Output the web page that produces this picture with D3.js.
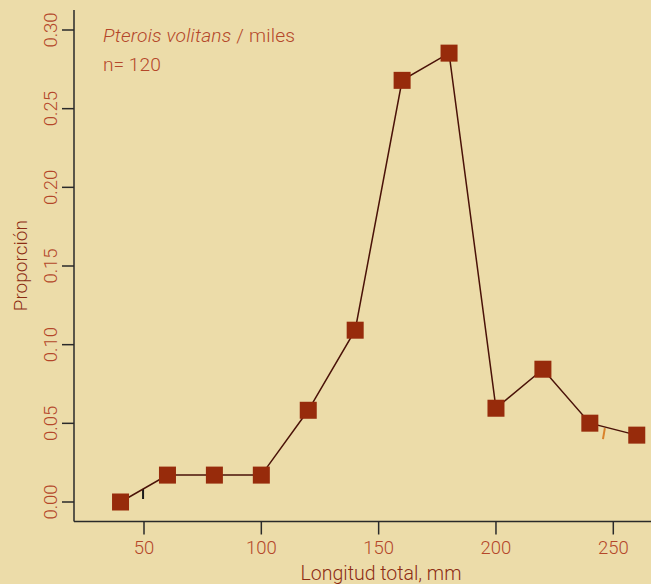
<!DOCTYPE html>
<html>
<head>
<meta charset="utf-8">
<script src="https://cdn.jsdelivr.net/npm/d3@7"></script>
<style>
  body { margin: 0; background: #ecdca9; }
  svg { display: block; font-family: Roboto, 'Liberation Sans', sans-serif; font-weight: 300; }
</style>
</head>
<body>
<script>
// talla (mm) y proporción de individuos, n = 120
const lengths = [40, 60, 80, 100, 120, 140, 160, 180, 200, 220, 240, 260]
const proportions = [0, 0.0171, 0.0171, 0.0171, 0.0583, 0.1092, 0.268, 0.2853, 0.0596, 0.0844, 0.0501, 0.0425]
const xTicks = [50, 100, 150, 200, 250]
const yTicks = [0, 0.05, 0.10, 0.15, 0.20, 0.25, 0.30]
// two small stray marks seen in the original plot
const strayBlack = [[49.6, 0.0083], [49.6, 0.0019]]
const strayOrange = [[246.4, 0.047], [245.6, 0.040]]

const width = 651
const height = 584
const margin = { top: 10, right: 0, bottom: 63, left: 74 }

const x = d3.scaleLinear().domain([50, 250]).range([144, 613.3])
const y = d3.scaleLinear().domain([0, 0.30]).range([502, 30])

const labelColor = '#b4472a'
const titleColor = '#8c2c14'
const axisColor = '#2a2a2a'

const svg = d3.select('body').append('svg')
  .attr('width', width)
  .attr('height', height)

svg.append('rect').attr('width', width).attr('height', height).attr('fill', '#ecdca9')

const plotBottom = height - margin.bottom + 0.5

// box lines (bty = "l")
svg.append('line')
  .attr('x1', margin.left).attr('x2', margin.left)
  .attr('y1', margin.top).attr('y2', plotBottom)
  .attr('stroke', axisColor).attr('stroke-width', 1.5)
svg.append('line')
  .attr('x1', margin.left).attr('x2', width)
  .attr('y1', plotBottom).attr('y2', plotBottom)
  .attr('stroke', axisColor).attr('stroke-width', 1.5)

// y axis
const yAxis = svg.append('g')
yAxis.selectAll('line')
  .data(yTicks)
  .enter()
  .append('line')
  .attr('x1', margin.left - 12).attr('x2', margin.left)
  .attr('y1', d => y(d)).attr('y2', d => y(d))
  .attr('stroke', axisColor).attr('stroke-width', 1.5)
yAxis.selectAll('text')
  .data(yTicks)
  .enter()
  .append('text')
  .attr('transform', d => 'translate(56.5,' + y(d) + ') rotate(-90)')
  .attr('text-anchor', 'middle')
  .attr('fill', labelColor)
  .attr('font-size', 18.5)
  .text(d => d3.format('.2f')(d))

// x axis
const xAxis = svg.append('g')
xAxis.selectAll('line')
  .data(xTicks)
  .enter()
  .append('line')
  .attr('x1', d => x(d)).attr('x2', d => x(d))
  .attr('y1', plotBottom).attr('y2', plotBottom + 13)
  .attr('stroke', axisColor).attr('stroke-width', 1.5)
xAxis.selectAll('text')
  .data(xTicks)
  .enter()
  .append('text')
  .attr('x', d => x(d))
  .attr('y', 554)
  .attr('text-anchor', 'middle')
  .attr('fill', labelColor)
  .attr('font-size', 18.5)
  .text(d => d)

// axis titles
svg.append('text')
  .attr('x', 381).attr('y', 580)
  .attr('text-anchor', 'middle')
  .attr('fill', titleColor)
  .attr('font-size', 19.5)
  .text('Longitud total, mm')
svg.append('text')
  .attr('transform', 'translate(27,' + ((margin.top + plotBottom) / 2) + ') rotate(-90)')
  .attr('text-anchor', 'middle')
  .attr('fill', titleColor)
  .attr('font-size', 19)
  .text('Proporción')

// annotation
const note = svg.append('text')
  .attr('x', 103).attr('y', 42)
  .attr('fill', labelColor)
  .attr('font-size', 19.2)
  .attr('letter-spacing', 0.2)
note.append('tspan').attr('font-style', 'italic').text('Pterois volitans')
note.append('tspan').text(' / miles')
svg.append('text')
  .attr('x', 103).attr('y', 71)
  .attr('fill', labelColor)
  .attr('font-size', 19.2)
  .text('n= 120')

// stray marks
const stray = d3.line().x(d => x(d[0])).y(d => y(d[1]))
svg.append('path').attr('d', stray(strayBlack))
  .attr('stroke', '#1a1a1a').attr('stroke-width', 2).attr('fill', 'none')
svg.append('path').attr('d', stray(strayOrange))
  .attr('stroke', '#d9822b').attr('stroke-width', 2).attr('fill', 'none')

// series
const points = lengths.map((l, i) => ({ l, p: proportions[i] }))
const line = d3.line().x(d => x(d.l)).y(d => y(d.p))

svg.append('path')
  .datum(points)
  .attr('d', line)
  .attr('fill', 'none')
  .attr('stroke', '#4a1208')
  .attr('stroke-width', 1.5)

const size = 17
svg.selectAll('rect.pt')
  .data(points)
  .enter()
  .append('rect')
  .attr('class', 'pt')
  .attr('x', d => x(d.l) - size / 2)
  .attr('y', d => y(d.p) - size / 2)
  .attr('width', size)
  .attr('height', size)
  .attr('fill', '#972b0b')
</script>
</body>
</html>
